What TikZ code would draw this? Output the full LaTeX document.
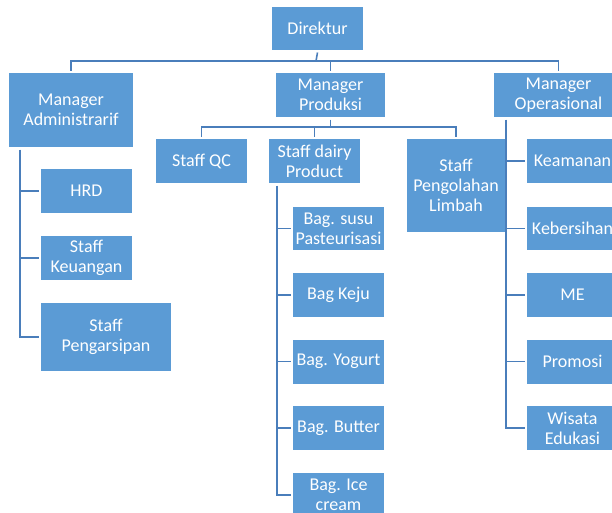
\documentclass[tikz,border=0pt]{standalone}
\usepackage{fontspec}
\setmainfont{Carlito}
\usepackage{tikz}

\begin{document}
\begin{tikzpicture}[x=1pt,y=-1pt,
	box/.style={fill=boxblue, text=white, inner sep=1pt, outer sep=2.5pt, align=center,
		minimum width=91pt, minimum height=44pt, font=\fontsize{18}{20}\selectfont},
	link/.style={draw=lineblue, line width=1.6pt}]
	\definecolor{boxblue}{RGB}{91,155,213}
	\definecolor{lineblue}{RGB}{74,126,187}

	\clip (0,0) rectangle (612,512);
	\useasboundingbox (0,0) rectangle (612,512);

	\node[box, minimum height=43pt] (dir) at (317.5,28.5) {Direktur};

	\node[box, minimum width=124pt, minimum height=74pt] (madm) at (71,110) {Manager\\Administrarif};
	\node[box, minimum width=109pt] (mprod) at (330.5,95) {Manager\\Produksi};
	\node[box, minimum width=129pt] (mops) at (558.5,95) {Manager\\Operasional};

	\node[box] (qc) at (201.5,161) {Staff QC};
	\node[box] (dairy) at (314.5,161) {Staff dairy\\Product};
	\node[box, minimum width=98pt, minimum height=93pt] (limbah) at (456,185.5) {Staff\\Pengolahan\\Limbah};

	\node[box] (hrd) at (86.5,191) {HRD};
	\node[box] (keu) at (86.5,258) {Staff\\Keuangan};
	\node[box, minimum width=130pt, minimum height=68pt] (arsip) at (106,337) {Staff\\Pengarsipan};

	\node[box, minimum height=43pt] (susu) at (338.5,228.5) {Bag. susu\\Pasteurisasi};
	\node[box] (keju) at (338.5,295) {Bag Keju};
	\node[box] (yogurt) at (338.5,361.5) {Bag. Yogurt};
	\node[box] (butter) at (338.5,428) {Bag. Butter};
	\node[box] (ice) at (338.5,495) {Bag. Ice\\cream};

	\node[box] (keam) at (572.5,161) {Keamanan};
	\node[box, minimum height=43pt] (keber) at (572.5,228.5) {Kebersihan};
	\node[box] (me) at (572.5,295) {ME};
	\node[box] (promo) at (572.5,361.5) {Promosi};
	\node[box] (wisata) at (572.5,428) {Wisata\\Edukasi};

	\coordinate (b1) at (316,61);
	\draw[link] (dir.south) -- (b1);
	\draw[link] (madm.north) |- (b1) -| (mops.north);
	\draw[link] (mprod.north) -- (mprod.north |- b1);

	\coordinate (b2) at (330.5,127);
	\draw[link] (mprod.south) -- (b2);
	\draw[link] (qc.north) |- (b2) -| (limbah.north);
	\draw[link] (dairy.north) -- (dairy.north |- b2);

	\coordinate (ta) at ([xshift=13.5pt]madm.south west);
	\draw[link] (ta) |- (arsip.west);
	\draw[link] (hrd.west) -- (hrd.west -| ta);
	\draw[link] (keu.west) -- (keu.west -| ta);

	\coordinate (tp) at ([xshift=10.5pt]dairy.south west);
	\draw[link] (tp) |- (ice.west);
	\foreach \n in {susu,keju,yogurt,butter}
		\draw[link] (\n.west) -- (\n.west -| tp);

	\coordinate (to) at ([xshift=14.5pt]mops.south west);
	\draw[link] (to) |- (wisata.west);
	\foreach \n in {keam,keber,me,promo}
		\draw[link] (\n.west) -- (\n.west -| to);
\end{tikzpicture}
\end{document}
